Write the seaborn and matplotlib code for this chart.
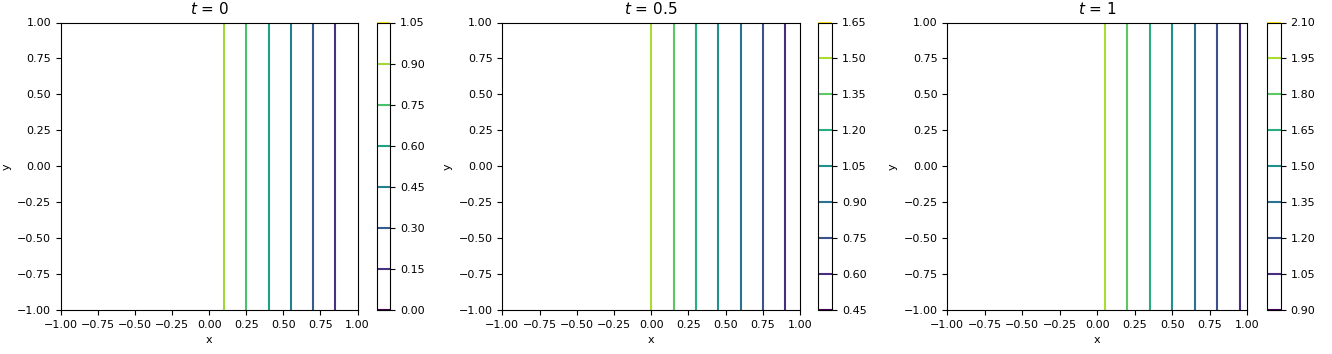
import numpy as np
import matplotlib
matplotlib.use("Agg")
import matplotlib.pyplot as plt
import seaborn as sns

x_nodes = [-1.0, 0.0, 1.0]
y_nodes = [-1.0, 1.0]
times = [0, 0.5, 1]
u_t0 = [1.0, 1.0, 0.001]
u_t05 = [1.501, 1.501, 0.5]
u_t1 = [2.0, 2.0, 1.0]
series = [u_t0, u_t05, u_t1]

sns.set_style("ticks")
plt.rcParams["font.family"] = ["DejaVu Sans"]
plt.rcParams["axes.unicode_minus"] = True
for k in ["text.color", "axes.labelcolor", "xtick.color", "ytick.color", "axes.edgecolor"]:
    plt.rcParams[k] = "black"
plt.rcParams["xtick.labelsize"] = 8
plt.rcParams["ytick.labelsize"] = 8
plt.rcParams["axes.labelsize"] = 8

W, H = 1332, 354
fig = plt.figure(figsize=(W / 100, H / 100), dpi=100)

ax_px = [(61.0, 357.5, 376.7, 390.3), (502.3, 800.0, 818.3, 832.3), (947.3, 1247.3, 1266.7, 1280.7)]
top_px, bot_px = 22.5, 310.0
cmap = sns.color_palette("viridis", as_cmap=True)

for (l, r, cl, cr), t, u in zip(ax_px, times, series):
    ax = fig.add_axes([l / W, 1 - bot_px / H, (r - l) / W, (bot_px - top_px) / H])
    cax = fig.add_axes([cl / W, 1 - bot_px / H, (cr - cl) / W, (bot_px - top_px) / H])
    X, Y = np.meshgrid(x_nodes, y_nodes)
    Z = np.tile(np.asarray(u, dtype=float), (len(y_nodes), 1))
    cs = ax.contour(X, Y, Z, cmap=cmap, linewidths=1.5)
    ax.set_xlim(-1, 1)
    ax.set_ylim(-1, 1)
    ax.set_xticks(np.linspace(-1, 1, 9))
    ax.set_yticks(np.linspace(-1, 1, 9))
    ax.set_xlabel("x")
    ax.set_ylabel("y")
    ax.set_title(f"$t$ = {t}", fontsize=11)
    cb = fig.colorbar(cs, cax=cax)
    cb.set_ticks(cs.levels)
    cb.ax.tick_params(labelsize=8)

fig.savefig("out.png", dpi=100)
